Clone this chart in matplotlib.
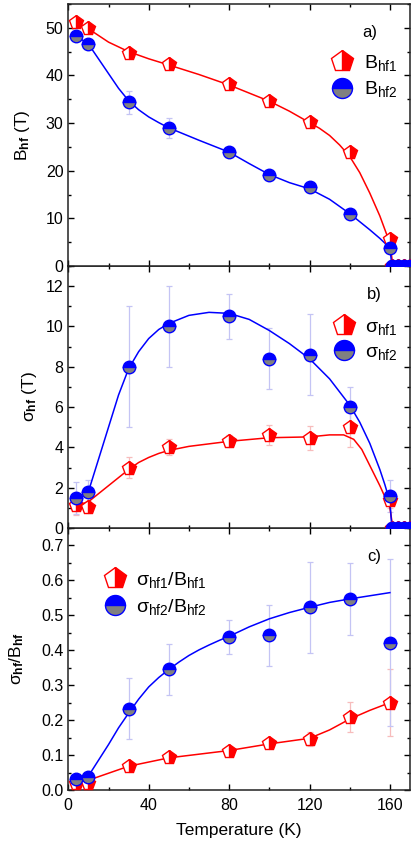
import numpy as np
import matplotlib
matplotlib.use("Agg")
import matplotlib.pyplot as plt
from matplotlib.ticker import MultipleLocator, FormatStrFormatter

plt.rcParams['font.family'] = ['Liberation Sans', 'DejaVu Sans']
plt.rcParams['mathtext.fontset'] = 'custom'
plt.rcParams['mathtext.rm'] = 'Liberation Sans'
plt.rcParams['mathtext.it'] = 'Liberation Sans:italic'
plt.rcParams['mathtext.bf'] = 'Liberation Sans:bold'

# ---------------- data ----------------
T = [4, 10, 30, 50, 80, 100, 120, 140, 160]
T_zero = [161, 164, 167, 170]
zero_vals = [0, 0, 0, 0]

# panel a) hyperfine fields (T)
B_hf1 = [51.2, 50.0, 44.8, 42.3, 38.2, 34.6, 30.2, 24.0, 5.6]
B_hf1_err = [0.6, 0.6, 0.7, 0.6, 0.6, 0.6, 0.7, 0.6, 0.8]
B_hf2 = [48.3, 46.7, 34.4, 29.0, 23.9, 19.0, 16.5, 11.0, 3.8]
B_hf2_err = [0.8, 0.8, 2.4, 2.1, 0.8, 1.0, 1.2, 0.8, 0.8]

# panel b) field distribution widths (T)
sig_hf1 = [1.15, 1.05, 3.0, 4.0, 4.3, 4.6, 4.45, 5.0, 1.4]
sig_hf1_err = [0.5, 0.3, 0.5, 0.4, 0.3, 0.5, 0.6, 1.0, 0.4]
sig_hf2 = [1.5, 1.8, 8.0, 10.0, 10.5, 8.4, 8.6, 6.0, 1.6]
sig_hf2_err = [0.8, 0.6, 3.0, 2.0, 1.1, 1.5, 2.0, 1.0, 0.8]

# panel c) ratios
ratio1 = [0.020, 0.020, 0.068, 0.094, 0.113, 0.134, 0.147, 0.208, 0.250]
ratio1_err = [0.01, 0.01, 0.012, 0.01, 0.008, 0.01, 0.02, 0.043, 0.095]
ratio2 = [0.031, 0.038, 0.233, 0.345, 0.439, 0.443, 0.523, 0.547, 0.422]
ratio2_err = [0.01, 0.01, 0.088, 0.073, 0.049, 0.087, 0.131, 0.103, 0.24]

# fit curves
fitT_a1 = [4, 10, 20, 30, 40, 50, 65, 80, 100, 110, 120, 125, 130, 135, 140, 145, 150, 155, 160, 161.5]
fit_a1 = [51.2, 49.8, 47.0, 45.0, 43.5, 42.2, 40.2, 38.0, 34.6, 32.5, 30.1, 28.9, 27.4, 25.4, 23.0, 19.6, 15.3, 10.5, 4.8, 0]
fitT_a2 = [4, 10, 15, 20, 25, 30, 35, 40, 45, 50, 65, 80, 90, 100, 110, 120, 130, 140, 150, 155, 160, 161]
fit_a2 = [48.3, 46.6, 43.5, 40.4, 37.3, 34.7, 32.8, 31.3, 30.1, 29.0, 26.4, 23.9, 21.5, 19.2, 17.5, 16.2, 14.0, 11.0, 7.6, 5.8, 3.8, 0]

fitT_b1 = [4, 10, 15, 20, 25, 30, 35, 40, 45, 50, 60, 80, 100, 120, 130, 137, 142, 146, 150, 155, 160, 161.5]
fit_b1 = [1.1, 1.3, 1.7, 2.1, 2.5, 2.9, 3.25, 3.5, 3.7, 3.85, 4.05, 4.3, 4.48, 4.52, 4.62, 4.62, 4.4, 3.9, 3.1, 2.1, 1.0, 0]
fitT_b2 = [4, 10, 15, 20, 25, 30, 35, 40, 45, 50, 60, 70, 80, 90, 100, 110, 120, 130, 140, 145, 150, 155, 157.5, 160, 161]
fit_b2 = [1.5, 1.8, 3.4, 5.0, 6.6, 7.9, 8.75, 9.4, 9.85, 10.15, 10.55, 10.7, 10.65, 10.35, 9.8, 9.15, 8.4, 7.4, 6.1, 5.25, 4.2, 2.9, 2.15, 1.3, 0]

fitT_c1 = [4, 10, 30, 50, 80, 100, 120, 130, 140, 150, 160]
fit_c1 = [0.022, 0.028, 0.068, 0.092, 0.113, 0.132, 0.148, 0.172, 0.203, 0.228, 0.250]
fitT_c2 = [4, 10, 20, 25, 30, 35, 40, 45, 50, 55, 60, 65, 70, 75, 80, 90, 100, 110, 120, 130, 140, 150, 160]
fit_c2 = [0.03, 0.04, 0.13, 0.178, 0.22, 0.26, 0.295, 0.322, 0.345, 0.366, 0.385, 0.401, 0.415, 0.428, 0.44, 0.467, 0.49, 0.508, 0.523, 0.537, 0.547, 0.556, 0.565]

x_ticks = [0, 40, 80, 120, 160]

# ---------------- style ----------------
RED = '#ff0000'
BLUE = '#0000ff'
GRAY = '#808080'
RED_ERR = '#f7bcbc'
BLUE_ERR = '#c4c4f4'

pent = dict(marker='p', ms=10, fillstyle='right', markerfacecolor=RED,
            markerfacecoloralt='white', markeredgecolor=RED, mew=1.0, ls='none')
circ = dict(marker='o', ms=9, fillstyle='top', markerfacecolor=BLUE,
            markerfacecoloralt=GRAY, markeredgecolor=BLUE, mew=1.0, ls='none')

W, H = 415, 842
fig = plt.figure(figsize=(W / 100, H / 100), dpi=100)
left = 68.3 / W
width = (410 - 68.3) / W
ax_h = 262 / H
ax_c = fig.add_axes([left, 1 - 790 / H, width, ax_h])
ax_b = fig.add_axes([left, 1 - 528 / H, width, ax_h])
ax_a = fig.add_axes([left, 1 - 266 / H, width, ax_h])


def style(ax):
    ax.set_xlim(0, 170)
    ax.xaxis.set_major_locator(MultipleLocator(40))
    ax.xaxis.set_minor_locator(MultipleLocator(20))
    ax.tick_params(which='both', direction='in', top=True, right=True,
                   labelsize=11.5, width=1.0)
    ax.tick_params(which='major', length=4.5)
    ax.tick_params(which='minor', length=2.5)
    ax.tick_params(axis='x', pad=6)
    for s in ax.spines.values():
        s.set_linewidth(1.1)
        s.set_color('#222222')


def draw(ax, y1, e1, y2, e2, f1T, f1, f2T, f2, zeros=True):
    ax.errorbar(T, y1, yerr=e1, fmt='none', ecolor=RED_ERR, elinewidth=0.9,
                capsize=2.5, capthick=0.9, zorder=1)
    ax.errorbar(T, y2, yerr=e2, fmt='none', ecolor=BLUE_ERR, elinewidth=0.9,
                capsize=2.5, capthick=0.9, zorder=1)
    ax.plot(f1T, f1, color=RED, lw=1.1, zorder=2)
    ax.plot(f2T, f2, color=BLUE, lw=1.1, zorder=2)
    h1, = ax.plot(T, y1, zorder=3, **pent)
    h2, = ax.plot(T, y2, zorder=4, **circ)
    if zeros:
        ax.plot(T_zero, zero_vals, zorder=3, **pent)
        ax.plot(T_zero, zero_vals, zorder=4, **circ)
    return h1, h2


# panel a
style(ax_a)
h1, h2 = draw(ax_a, B_hf1, B_hf1_err, B_hf2, B_hf2_err, fitT_a1, fit_a1, fitT_a2, fit_a2)
ax_a.set_ylim(0, 55)
ax_a.yaxis.set_major_locator(MultipleLocator(10))
ax_a.yaxis.set_minor_locator(MultipleLocator(5))
ax_a.tick_params(labelbottom=False)
ax_a.set_ylabel(r'$\mathrm{B}_{\mathbf{hf}}$ (T)', fontsize=12.5)
ax_a.yaxis.set_label_coords(-0.105, 0.5)
ax_a.text(0.86, 0.89, 'a)', transform=ax_a.transAxes, fontsize=12, ha='left', va='center')
ax_a.legend([h1, h2], [r'$\mathrm{B}_{\mathrm{hf1}}$', r'$\mathrm{B}_{\mathrm{hf2}}$'],
            loc='center left', bbox_to_anchor=(0.745, 0.725), frameon=False,
            markerscale=1.6, fontsize=14, handlelength=1.0, handletextpad=0.6,
            labelspacing=0.35, borderpad=0)

# panel b
style(ax_b)
h1, h2 = draw(ax_b, sig_hf1, sig_hf1_err, sig_hf2, sig_hf2_err, fitT_b1, fit_b1, fitT_b2, fit_b2)
ax_b.set_ylim(0, 13)
ax_b.yaxis.set_major_locator(MultipleLocator(2))
ax_b.yaxis.set_minor_locator(MultipleLocator(1))
ax_b.tick_params(labelbottom=False)
ax_b.set_ylabel(r'$\mathrm{\sigma}_{\mathbf{hf}}$ (T)', fontsize=12.5)
ax_b.yaxis.set_label_coords(-0.085, 0.5)
ax_b.text(0.875, 0.89, 'b)', transform=ax_b.transAxes, fontsize=12, ha='left', va='center')
ax_b.legend([h1, h2], [r'$\mathrm{\sigma}_{\mathrm{hf1}}$', r'$\mathrm{\sigma}_{\mathrm{hf2}}$'],
            loc='center left', bbox_to_anchor=(0.75, 0.717), frameon=False,
            markerscale=1.6, fontsize=14, handlelength=1.0, handletextpad=0.6,
            labelspacing=0.35, borderpad=0)

# panel c
style(ax_c)
h1, h2 = draw(ax_c, ratio1, ratio1_err, ratio2, ratio2_err, fitT_c1, fit_c1, fitT_c2, fit_c2, zeros=False)
ax_c.set_ylim(0, 0.75)
ax_c.yaxis.set_major_locator(MultipleLocator(0.1))
ax_c.yaxis.set_minor_locator(MultipleLocator(0.05))
ax_c.yaxis.set_major_formatter(FormatStrFormatter('%.1f'))
ax_c.set_xticks(x_ticks)
ax_c.set_ylabel(r'$\mathrm{\sigma}_{\mathbf{hf}}\mathrm{/B}_{\mathbf{hf}}$', fontsize=12.5)
ax_c.yaxis.set_label_coords(-0.125, 0.5)
ax_c.set_xlabel('Temperature (K)', fontsize=12.5, labelpad=7)
ax_c.text(0.875, 0.89, 'c)', transform=ax_c.transAxes, fontsize=12, ha='left', va='center')
ax_c.legend([h1, h2], [r'$\mathrm{\sigma}_{\mathrm{hf1}}\mathrm{/B}_{\mathrm{hf1}}$',
                       r'$\mathrm{\sigma}_{\mathrm{hf2}}\mathrm{/B}_{\mathrm{hf2}}$'],
            loc='center left', bbox_to_anchor=(0.08, 0.75), frameon=False,
            markerscale=1.6, fontsize=14, handlelength=1.0, handletextpad=0.6,
            labelspacing=0.35, borderpad=0)

fig.savefig('out.png', dpi=100)
